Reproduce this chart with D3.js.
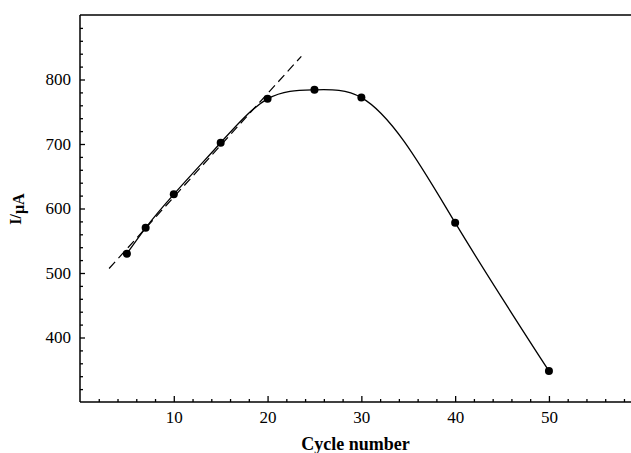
<!DOCTYPE html>
<html><head><meta charset="utf-8">
<script src="https://cdn.jsdelivr.net/npm/d3@7"></script>
<style>body{margin:0;background:#fff}svg{display:block}</style>
</head><body>
<svg id="c" width="631" height="453"></svg>
<script>
const cycles = [5, 7, 10, 15, 20, 25, 30, 40, 50];
const current = [530, 570, 622, 702, 770, 784, 772, 578, 348];
const fitX = [3.1, 23.6];
const fitY = [507, 836];
const xTicks = [10, 20, 30, 40, 50];
const yTicks = [400, 500, 600, 700, 800];

// natural cubic spline curve (in x) for d3.line
function NaturalX(context) { this._context = context; }
NaturalX.prototype = {
  areaStart() { this._line = 0; }, areaEnd() { this._line = NaN; },
  lineStart() { this._x = []; this._y = []; },
  point(x, y) { this._x.push(+x); this._y.push(+y); },
  lineEnd() {
    const X = this._x, Y = this._y, n = X.length, c = this._context;
    if (!n) return;
    c.moveTo(X[0], Y[0]);
    if (n < 3) { for (let i = 1; i < n; i++) c.lineTo(X[i], Y[i]); return; }
    const h = [], M = new Array(n).fill(0);
    for (let i = 0; i < n - 1; i++) h.push(X[i + 1] - X[i]);
    const a = [], b = [], cc = [], d = [];
    for (let i = 1; i < n - 1; i++) {
      a.push(h[i - 1]); b.push(2 * (h[i - 1] + h[i])); cc.push(h[i]);
      d.push(6 * ((Y[i + 1] - Y[i]) / h[i] - (Y[i] - Y[i - 1]) / h[i - 1]));
    }
    const m = b.length;
    for (let i = 1; i < m; i++) { const w = a[i] / b[i - 1]; b[i] -= w * cc[i - 1]; d[i] -= w * d[i - 1]; }
    const sol = new Array(m);
    sol[m - 1] = d[m - 1] / b[m - 1];
    for (let i = m - 2; i >= 0; i--) sol[i] = (d[i] - cc[i] * sol[i + 1]) / b[i];
    for (let i = 0; i < m; i++) M[i + 1] = sol[i];
    for (let i = 0; i < n - 1; i++) {
      const hi = h[i], s = (Y[i + 1] - Y[i]) / hi;
      const t0 = s - hi * (2 * M[i] + M[i + 1]) / 6;
      const t1 = s + hi * (M[i] + 2 * M[i + 1]) / 6;
      c.bezierCurveTo(X[i] + hi / 3, Y[i] + t0 * hi / 3, X[i + 1] - hi / 3, Y[i + 1] - t1 * hi / 3, X[i + 1], Y[i + 1]);
    }
  }
};
const curveNaturalX = ctx => new NaturalX(ctx);

const svg = d3.select("#c");
const L = 80, R = 631, T = 15, B = 402;
const x = d3.scaleLinear().domain([0, 58.75]).range([L, R]);
const y = d3.scaleLinear().domain([300, 900]).range([B, T]);
const font = "'Liberation Serif', 'Times New Roman', serif";

svg.append("line").attr("x1", L).attr("x2", L).attr("y1", T).attr("y2", B).attr("stroke", "#000").attr("stroke-width", 1.5);
svg.append("line").attr("x1", L).attr("x2", R).attr("y1", B).attr("y2", B).attr("stroke", "#000").attr("stroke-width", 1.5);
svg.append("line").attr("x1", L).attr("x2", R).attr("y1", T).attr("y2", T).attr("stroke", "#000").attr("stroke-width", 1.5);

const xMinor = d3.range(2, 59, 2).filter(v => v % 10 !== 0);
const gx = svg.append("g").attr("transform", `translate(0,${B})`);
gx.call(d3.axisBottom(x).tickValues(xMinor).tickSizeInner(-3).tickSizeOuter(0).tickFormat(""));
gx.append("g").call(d3.axisBottom(x).tickValues(xTicks).tickSizeInner(-6).tickSizeOuter(0).tickPadding(9).tickFormat(d3.format("d")));
gx.selectAll(".domain").remove();
gx.selectAll("line").attr("stroke-width", 1.3);
gx.selectAll("text").style("font-family", font).style("font-size", "17px").attr("fill", "#000");

const yMinor = d3.range(320, 900, 20).filter(v => v % 100 !== 0);
const gy = svg.append("g").attr("transform", `translate(${L},0)`);
gy.call(d3.axisLeft(y).tickValues(yMinor).tickSizeInner(-3).tickSizeOuter(0).tickFormat(""));
gy.append("g").call(d3.axisLeft(y).tickValues(yTicks).tickSizeInner(-5).tickSizeOuter(0).tickPadding(9).tickFormat(d3.format("d")));
gy.selectAll(".domain").remove();
gy.selectAll("line").attr("stroke-width", 1.3);
gy.selectAll("text").style("font-family", font).style("font-size", "17px").attr("fill", "#000");

svg.append("line")
  .attr("x1", x(fitX[0])).attr("y1", y(fitY[0]))
  .attr("x2", x(fitX[1])).attr("y2", y(fitY[1]))
  .attr("stroke", "#000").attr("stroke-width", 1.2).attr("stroke-dasharray", "9,5");

const pts = cycles.map((c, i) => [c, current[i]]);
svg.append("path").datum(pts)
  .attr("d", d3.line().x(d => x(d[0])).y(d => y(d[1])).curve(curveNaturalX))
  .attr("fill", "none").attr("stroke", "#000").attr("stroke-width", 1.3);

svg.selectAll("circle.pt").data(pts).enter().append("circle")
  .attr("class", "pt").attr("cx", d => x(d[0])).attr("cy", d => y(d[1])).attr("r", 4).attr("fill", "#000");

svg.append("text").attr("x", (L + R) / 2).attr("y", 450)
  .attr("text-anchor", "middle").style("font-family", font).attr("font-weight", "bold").style("font-size", "18px")
  .text("Cycle number");

const yl = svg.append("text").attr("transform", "translate(21,209) rotate(-90)")
  .attr("text-anchor", "middle").style("font-family", font).attr("font-weight", "bold").style("font-size", "16px");
yl.append("tspan").text("I/");
yl.append("tspan").attr("dy", 3).text("μA");
</script>
</body></html>
